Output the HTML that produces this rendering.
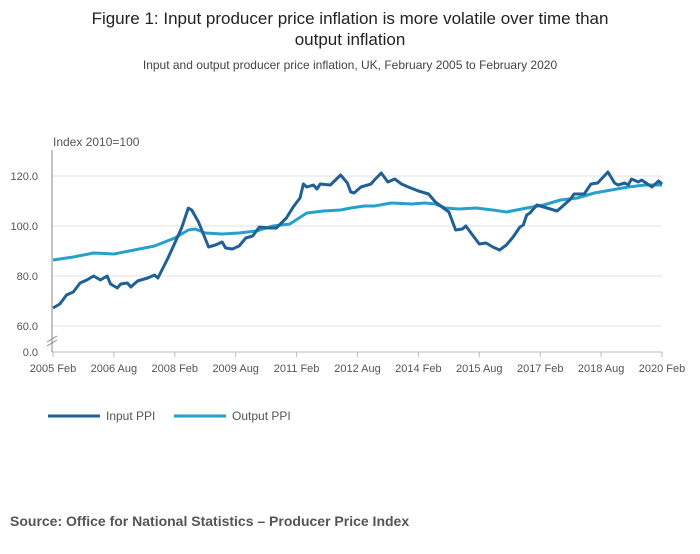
<!DOCTYPE html>
<html><head><meta charset="utf-8"><style>
body{margin:0;background:#fff;font-family:"Liberation Sans",sans-serif;}
svg text{font-family:"Liberation Sans",sans-serif;}
</style></head><body>
<svg width="700" height="549" xmlns="http://www.w3.org/2000/svg" id="chart">
<text x="350" y="24" text-anchor="middle" font-size="17" fill="#222">Figure 1: Input producer price inflation is more volatile over time than</text>
<text x="350" y="45" text-anchor="middle" font-size="17" fill="#222">output inflation</text>
<text x="350" y="69" text-anchor="middle" font-size="12" fill="#444">Input and output producer price inflation, UK, February 2005 to February 2020</text>
<text x="53" y="146" font-size="12" fill="#555">Index 2010=100</text>
<g id="grid"></g><g id="axes"></g><g id="series"></g>
<g>
<line x1="48" y1="416" x2="100" y2="416" stroke="#206095" stroke-width="3"/>
<text x="106" y="420" font-size="12" fill="#555">Input PPI</text>
<line x1="174" y1="416" x2="226" y2="416" stroke="#27a0cc" stroke-width="3"/>
<text x="232" y="420" font-size="12" fill="#555">Output PPI</text>
</g>
<text x="10" y="526" font-size="14" font-weight="bold" fill="#555">Source: Office for National Statistics – Producer Price Index</text>
</svg>
<script>
const inputMonths=[0,2,4,6,8,10,12,14,16,17,19,20,22,23,25,28,30,31,34,36,38,40,41,43,46,48,50,51,53,55,57,59,61,64,66,69,71,73,74,75,77,78,79,82,85,87,88,89,91,94,95,97,99,101,103,105,108,111,113,117,119,121,122,124,126,128,130,132,134,136,138,139,140,141,143,146,149,151,153,154,157,159,161,164,166,167,169,170,171,173,174,177,179,180];
const inputValues=[67.2,68.8,72.4,73.6,77.2,78.4,80,78.4,80,76.8,75.2,76.8,77.2,75.6,78,79.2,80.4,79.2,87.2,93.2,99.2,107.2,106.4,101.6,91.6,92.4,93.6,91.2,90.8,92,95.2,96,99.6,99.2,99.2,103.2,107.6,111.2,116.8,115.6,116.4,114.8,116.8,116.4,120.4,117.2,113.6,113.2,115.6,116.8,118.4,121.2,117.6,118.8,116.8,115.6,114,112.8,109.6,105.6,98.4,98.8,100,96.4,92.8,93.2,91.6,90.4,92.4,95.6,99.6,100.4,104.4,105.2,108.4,107.2,106,108.4,110.8,112.8,112.8,116.8,117.2,121.6,117.2,116.4,117.2,116.4,118.8,117.6,118.4,115.6,118,116.8];
const outputMonths=[0,6,12,18,24,30,36,40,42,45,50,55,60,65,70,75,80,85,88,92,95,100,106,110,113,116,120,125,130,134,140,145,150,155,160,165,170,175,180];
const outputValues=[86.4,87.6,89.2,88.8,90.4,92,95.2,98.4,98.8,97.2,96.8,97.2,98,100,100.8,105.2,106,106.4,107.2,108,108,109.2,108.8,109.2,108.8,107.2,106.8,107.2,106.4,105.6,107.2,108.4,110.4,111.2,113.2,114.4,115.6,116.4,116.4];
const yTicks=[60,80,100,120];
const xTickMonths=[0,18,36,54,72,90,108,126,144,162,180];
const xTickLabels=["2005 Feb","2006 Aug","2008 Feb","2009 Aug","2011 Feb","2012 Aug","2014 Feb","2015 Aug","2017 Feb","2018 Aug","2020 Feb"];
const NS="http://www.w3.org/2000/svg";
const X0=53,X1=662;
function xs(m){return X0+(X1-X0)*m/180;}
function ys(v){return 176+(120-v)*2.5;}
function mk(t,a,p){const e=document.createElementNS(NS,t);for(const k in a)e.setAttribute(k,a[k]);p.appendChild(e);return e;}
const grid=document.getElementById('grid'),axes=document.getElementById('axes'),ser=document.getElementById('series');
yTicks.forEach(v=>{
 const l=mk('line',{x1:52,x2:X1,y1:ys(v),y2:ys(v),stroke:'#e2e2e2'},grid);
 
 
 const t=mk('text',{x:38,y:ys(v)+4,'text-anchor':'end','font-size':11,fill:'#555'},axes);t.textContent=v.toFixed(1);
 
 
});
const z=mk('line',{x1:52,x2:X1,y1:352,y2:352,stroke:'#bbb'},grid);


const zt=mk('text',{x:38,y:356,'text-anchor':'end','font-size':11,fill:'#555'},axes);zt.textContent='0.0';


const ya=mk('line',{x1:52,x2:52,y1:150,y2:352,stroke:'#888'},axes);


const br=mk('path',{d:'M47,342 L57,336 M47,346 L57,340',stroke:'#888',fill:'none'},axes);


xTickMonths.forEach((m,i)=>{
 const tk=mk('line',{x1:xs(m),x2:xs(m),y1:352,y2:357,stroke:'#bbb'},axes);
 
 
 const t=mk('text',{x:xs(m),y:372,'text-anchor':'middle','font-size':11,fill:'#555'},axes);t.textContent=xTickLabels[i];
 
 
});
function line(ms,vs,c,name){
 const d=ms.map((m,i)=>(i?'L':'M')+xs(m).toFixed(1)+','+ys(vs[i]).toFixed(1)).join(' ');
 const p=mk('path',{d:d,stroke:c,'stroke-width':3,fill:'none','stroke-linejoin':'round'},ser);
 
 
}
line(outputMonths,outputValues,'#27a0cc','output-ppi-line');
line(inputMonths,inputValues,'#206095','input-ppi-line');
</script>
</body></html>
